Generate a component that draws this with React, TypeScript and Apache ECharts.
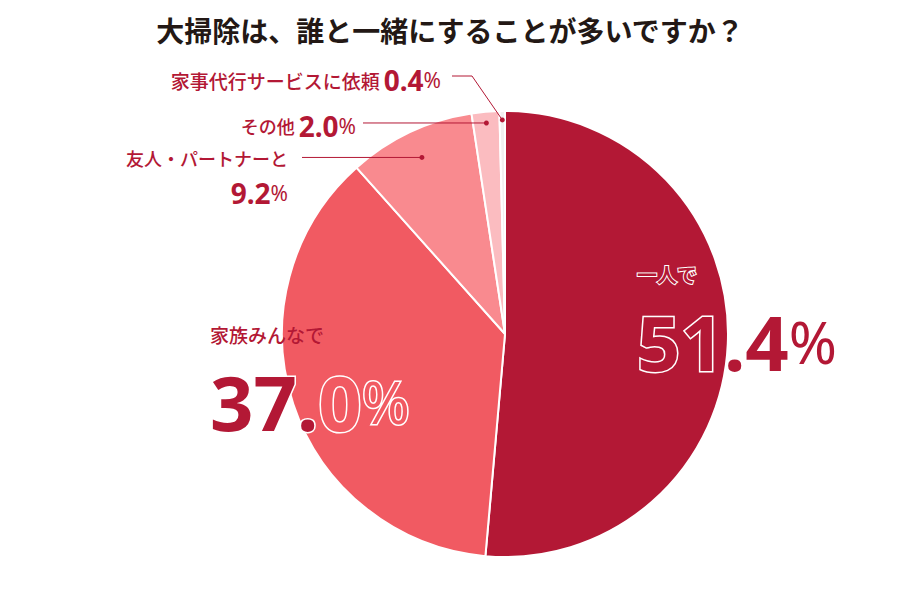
import { useEffect, useRef } from "react";
import * as echarts from "echarts";

// ---- data ----
const categories = ["一人で", "家族みんなで", "友人・パートナーと", "その他", "家事代行サービスに依頼"];
const shares = [51.4, 37.0, 9.2, 2.0, 0.4];
const sliceColors = ["#b31835", "#f15a62", "#f98a8f", "#fbbcc0", "#f2eff0"];

const TITLE = "大掃除は、誰と一緒にすることが多いですか？";
const RED = "#b31835";
const JP = "'Noto Sans CJK JP', sans-serif";
const NUM = "'Noto Sans', 'Noto Sans CJK JP', sans-serif";

// pie geometry (px)
const CX = 505;
const CY = 334;
const R = 223;

// where the leader dots sit inside small slices (fraction of radius)
const dotFrac = [0, 0, 0.875, 0.95, 0.96];

function midAngles() {
  const total = shares.reduce((a, b) => a + b, 0);
  let acc = 0;
  return shares.map((v) => {
    const mid = ((acc + v / 2) / total) * 360;
    acc += v;
    return mid;
  });
}

function dotPoint(i: number): [number, number] {
  const rad = (midAngles()[i] * Math.PI) / 180;
  const r = R * dotFrac[i];
  return [CX + Math.sin(rad) * r, CY - Math.cos(rad) * r];
}

function smallRich(textSize: number) {
  return {
    t: { fontFamily: JP, fontSize: textSize, fontWeight: 500, color: RED, lineHeight: 28 },
    n: { fontFamily: NUM, fontSize: 28, fontWeight: "bold", color: RED, lineHeight: 42 },
    p: { fontFamily: NUM, fontSize: 21, fontWeight: "normal", color: RED, lineHeight: 42 },
    s: { fontSize: 14, lineHeight: 28 },
  };
}

// leader line: dot -> (bend) -> end next to the label
function leaderPoints(i: number): number[][] {
  const [dx, dy] = dotPoint(i);
  if (i === 2) return [[dx, dy], [302, dy]];
  if (i === 3) return [[dx, dy], [363, dy]];
  return [[dx, dy], [472, 76], [452, 76]];
}

function bigRich(headWeight: any, headStroke: number, tailColor: string) {
  return {
    a: { fontFamily: JP, fontSize: headWeight === "bold" ? 20 : 19, fontWeight: headWeight, color: RED, textBorderColor: "#fff", textBorderWidth: headStroke, lineHeight: 22 },
    b: { fontFamily: NUM, fontSize: 76, fontWeight: "bold", color: RED, textBorderColor: "#fff", textBorderWidth: 3, lineHeight: 112 },
    d: { fontFamily: NUM, fontSize: 76, fontWeight: "bold", color: tailColor, textBorderColor: "#fff", textBorderWidth: 3, lineHeight: 112 },
    c: { fontFamily: NUM, fontSize: 58, fontWeight: "normal", color: tailColor, textBorderColor: "#fff", textBorderWidth: 3, lineHeight: 112 },
  };
}

function buildOption(): echarts.EChartsOption {
  const pieData = categories.map((name, i) => {
    const item: any = { name, value: shares[i], itemStyle: { color: sliceColors[i] } };
    if (i === 0) {
      item.label = {
        formatter: "{a|" + name + "}\n{b|" + shares[i].toFixed(1) + "}{c|%}",
        align: "left",
        rich: bigRich("bold", 2, RED),
      };
    } else if (i === 1) {
      const [whole, frac] = shares[i].toFixed(1).split(".");
      item.label = {
        formatter: "{a|" + name + "}\n{b|" + whole + ".}{d|" + frac + "}{c|%}",
        align: "left",
        rich: bigRich(500, 0, sliceColors[1]),
      };
    } else if (i === 2) {
      item.label = {
        formatter: "{t|" + name + "}\n{n|" + shares[i].toFixed(1) + "}{p|%}",
        align: "right",
        rich: smallRich(18),
      };
    } else {
      item.label = {
        formatter: "{t|" + name + "}{s| }{n|" + shares[i].toFixed(1) + "}{p|%}",
        align: "right",
        rich: smallRich(i === 4 ? 19 : 18),
      };
    }
    return item;
  });

  return {
    animation: false,
    title: {
      text: TITLE,
      left: "center",
      top: 11,
      textStyle: { fontFamily: JP, fontSize: 28, fontWeight: "bold", color: "#231815" },
    },
    series: [
      {
        type: "pie",
        center: [CX, CY],
        radius: R,
        startAngle: 90,
        clockwise: true,
        avoidLabelOverlap: false,
        itemStyle: { borderColor: "#fff", borderWidth: 2 },
        label: { show: true, position: "outside" },
        labelLine: { show: false },
        emphasis: { disabled: true },
        data: pieData,
        labelLayout: (params: any) => {
          const i = params.dataIndex;
          if (i === 0) return { x: 637, y: 330, align: "left", verticalAlign: "middle" };
          if (i === 1) return { x: 210, y: 390, align: "left", verticalAlign: "middle" };
          if (i === 2) return { x: 288, y: 179, align: "right", verticalAlign: "middle" };
          if (i === 3) return { x: 356, y: 126, align: "right", verticalAlign: "middle" };
          return { x: 441, y: 80, align: "right", verticalAlign: "middle" };
        },
      },
    ],
    graphic: [2, 3, 4].flatMap((i) => {
      const [x, y] = dotPoint(i);
      return [
        {
          type: "polyline",
          shape: { points: leaderPoints(i) },
          style: { stroke: RED, lineWidth: 1, fill: "none" },
          z: 100,
        },
        { type: "circle", shape: { cx: x, cy: y, r: 2.5 }, style: { fill: RED }, z: 101 },
      ];
    }),
  };
}

export default function App() {
  const chartRef = useRef<HTMLDivElement>(null);

  useEffect(() => {
    if (!chartRef.current) return;
    const chart = echarts.init(chartRef.current, undefined, { renderer: "svg" });
    chart.setOption(buildOption());
    return () => chart.dispose();
  }, []);

  return (
    <div
      ref={chartRef}
      style={{ position: "fixed", left: 0, top: 0, width: 900, height: 600, background: "#fff" }}
    />
  );
}
